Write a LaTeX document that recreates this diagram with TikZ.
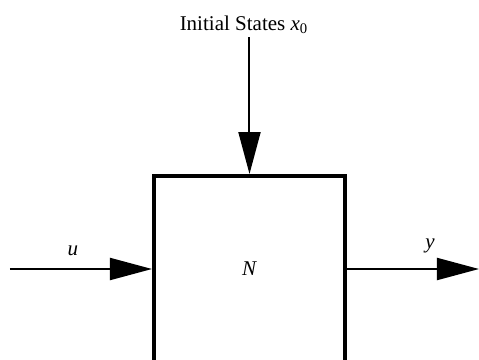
\documentclass[tikz,border=0pt]{standalone}
\usepackage{fontspec}
\setmainfont{Liberation Serif}
\usetikzlibrary{arrows.meta, positioning}

\begin{document}
\begin{tikzpicture}[
    x=0.5pt, y=-0.5pt,
    lbl/.style={font=\fontsize{10.5}{12}\selectfont, inner sep=0pt, anchor=base},
    sys/.style={draw, line width=2pt, minimum width=95.5pt, minimum height=93pt, inner sep=0pt, font=\fontsize{10.5}{12}\selectfont},
    arr/.style={line width=1pt, -{Triangle[length=21pt, width=11pt]}},
]

% Frame
\useasboundingbox (0,0) rectangle (479,360);
\clip (0,0) rectangle (479,360);

% Title
\node[lbl] (x0lbl) at (244, 30) {Initial States \textit{x}\textsubscript{0}};

% System block
\node[sys] (N) at (249.5, 269) {\textit{N}};

% Free ends
\coordinate (x0in) at (249.5, 37);
\coordinate (uin) at (10, 269);
\coordinate (yout) at (479, 269);

% Labels
\node[lbl] (ulbl) at (73, 255) {\textit{u}};
\node[lbl] (ylbl) at (430, 248) {\textit{y}};

% === ARROWS ===
\draw[arr] (x0in) -- (N.north);
\draw[arr] (uin) -- (N.west);
\draw[arr] (N.east) -- (yout);

\end{tikzpicture}
\end{document}
